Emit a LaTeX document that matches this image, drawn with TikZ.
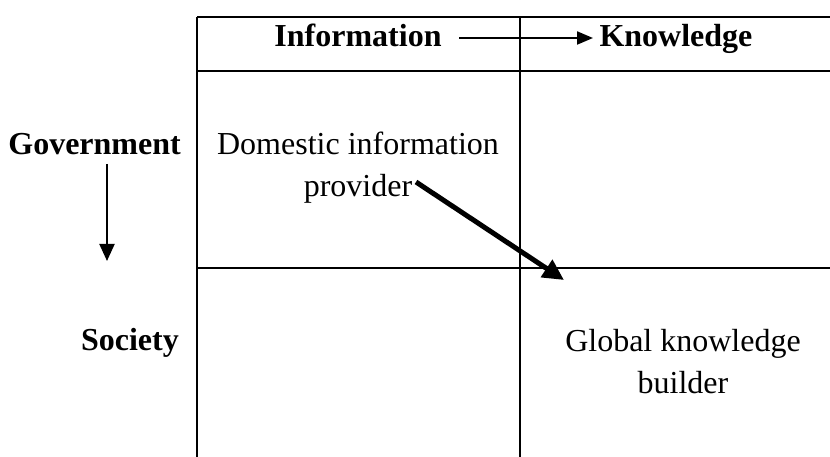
\documentclass[tikz,border=0pt]{standalone}
\usepackage{fontspec}
\setmainfont{Liberation Serif}
\usetikzlibrary{arrows.meta}
\begin{document}
\begin{tikzpicture}[x=1pt,y=-1pt,
  rule/.style={line width=2pt},
  head/.style={font=\fontsize{32}{42}\selectfont\bfseries, inner sep=0pt},
  celltext/.style={font=\fontsize{32}{42}\selectfont, inner sep=0pt},
  flow/.style={line width=2pt, -{Triangle[length=16pt,width=13pt]}},
  move/.style={line width=5pt, -{Triangle[length=21pt,width=20pt]}}]
\useasboundingbox (0,0) rectangle (830,457);

% grid lines (open on the right and at the bottom)
\draw[rule] (197,17) -- (830,17);
\draw[rule] (197,71) -- (830,71);
\draw[rule] (197,268) -- (830,268);
\draw[rule] (197,17) -- (197,457);
\draw[rule] (520,17) -- (520,457);

% column headings
\node[head, anchor=base] (info) at (358,47) {Information};
\node[head, anchor=base] (know) at (676,47) {Knowledge};
\coordinate (infoS) at (459,38);
\coordinate (infoE) at (593,38);
\draw[flow] (infoS) -- (infoE);

% row headings
\node[head, anchor=base east] (gov) at (181,155) {Government};
\node[head, anchor=base east] (soc) at (179,350) {Society};
\coordinate (govS) at (107,164);
\coordinate (govE) at (107,261);
\draw[flow, -{Triangle[length=17pt,width=15pt]}] (govS) -- (govE);

% cell contents
\node[celltext, anchor=base] (dom1) at (358,155) {Domestic information};
\node[celltext, anchor=base] (dom2) at (358,197) {provider};
\node[celltext, anchor=base] (glob1) at (683,351) {Global knowledge};
\node[celltext, anchor=base] (glob2) at (683,393) {builder};

% shift from domestic provider to global builder
\coordinate (shiftS) at (416,182);
\coordinate (shiftE) at (564,280);
\draw[move] (shiftS) -- (shiftE);
\end{tikzpicture}
\end{document}
